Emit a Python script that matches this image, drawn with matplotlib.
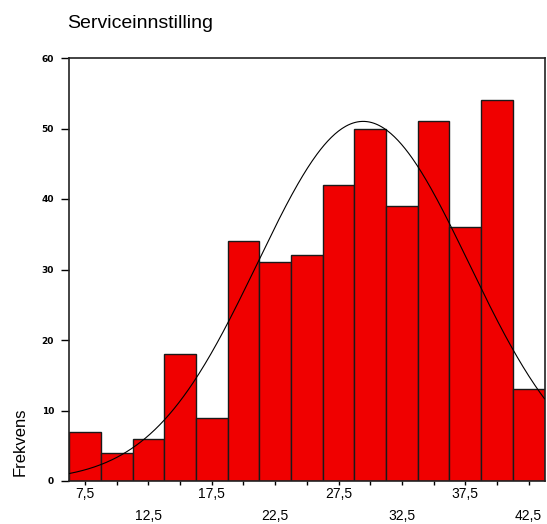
import numpy as np
import matplotlib
matplotlib.use("Agg")
import matplotlib.pyplot as plt

# Data
bin_centers = [7.5, 10, 12.5, 15, 17.5, 20, 22.5, 25, 27.5, 30, 32.5, 35, 37.5, 40, 42.5]
counts = [7, 4, 6, 18, 9, 34, 31, 32, 42, 50, 39, 51, 36, 54, 13]
bin_width = 2.5
odd_labels = ["7,5", "17,5", "27,5", "37,5"]
odd_pos = [7.5, 17.5, 27.5, 37.5]
even_labels = ["12,5", "22,5", "32,5", "42,5"]
even_pos = [12.5, 22.5, 32.5, 42.5]
y_ticks = [0, 10, 20, 30, 40, 50, 60]
title = "Serviceinnstilling"
ylabel = "Frekvens"

centers = np.array(bin_centers, dtype=float)
cnt = np.array(counts, dtype=float)
n = cnt.sum()
mean = (centers * cnt).sum() / n
sd = np.sqrt(((centers - mean) ** 2 * cnt).sum() / (n - 1))

fig = plt.figure(figsize=(5.47, 5.24), dpi=100)
ax = fig.add_axes([69.2 / 547, 1 - 481 / 524, (544.5 - 69.2) / 547, (481 - 58) / 524])

ax.bar(centers, cnt, width=bin_width, color="#f00000", edgecolor="#1a1a1a",
       linewidth=1.0, zorder=2)

x0 = centers[0] - bin_width / 2
x1 = centers[-1] + bin_width / 2
xs = np.linspace(x0, x1, 400)
ys = n * bin_width / (sd * np.sqrt(2 * np.pi)) * np.exp(-0.5 * ((xs - mean) / sd) ** 2)
ax.plot(xs, ys, color="black", linewidth=0.8, zorder=3)

ax.set_xlim(x0, x1)
ax.set_ylim(0, 60)
ax.set_yticks(y_ticks)
ax.set_yticklabels([str(v) for v in y_ticks], fontsize=6.5, fontweight="bold",
                   family="DejaVu Sans")
ax.tick_params(axis="y", length=6, width=1, pad=5)

ax.set_xticks(centers)
ax.set_xticklabels([""] * len(centers))
ax.tick_params(axis="x", length=3, width=1)
for p, lab in zip(odd_pos, odd_labels):
    ax.text(p, -1.8, lab, ha="center", va="center", fontsize=10,
            family="Liberation Sans", transform=ax.transData, clip_on=False)
for p, lab in zip(even_pos, even_labels):
    ax.text(p, -5.0, lab, ha="center", va="center", fontsize=10,
            family="Liberation Sans", transform=ax.transData, clip_on=False)

for s in ax.spines.values():
    s.set_linewidth(1.2)
    s.set_color("#222222")

fig.text(67 / 547, 1 - 23 / 524, title, fontsize=14, family="Liberation Sans",
         ha="left", va="center")
fig.text(20 / 547, 1 - 442 / 524, ylabel, fontsize=12, family="Liberation Sans",
         rotation=90, ha="center", va="center")

fig.savefig("out.png", dpi=100)
